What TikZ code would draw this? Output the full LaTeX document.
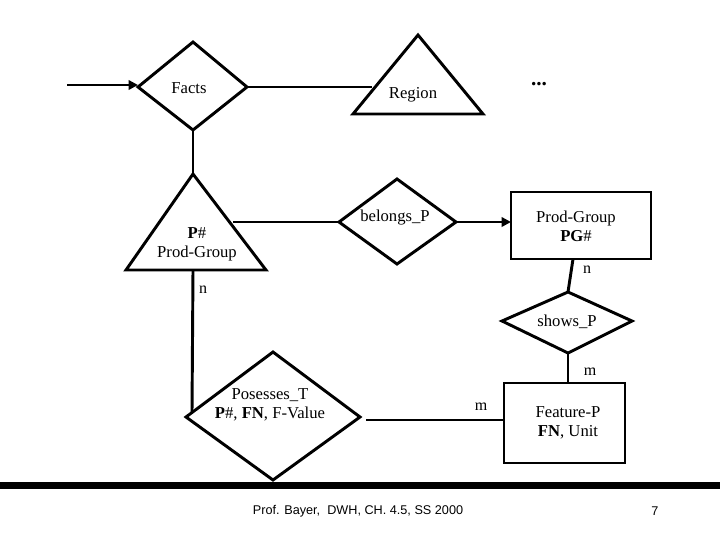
\documentclass[tikz,border=0pt]{standalone}
\usepackage{fontspec}
\setmainfont{Liberation Serif}
\newfontfamily\footfont{Liberation Sans}
\usetikzlibrary{arrows.meta}
\begin{document}
\begin{tikzpicture}[x=0.75pt,y=-0.75pt,
  shp/.style={line width=2.2pt,line join=miter},
  ln/.style={line width=2.2pt},
  arr/.style={line width=2.2pt,-{Triangle[length=7pt,width=7pt]}},
  txt/.style={font=\fontsize{12.5}{14}\selectfont,align=center,inner sep=0pt},
  lbl/.style={font=\fontsize{12}{14}\selectfont,inner sep=0pt}]
\useasboundingbox (0,0) rectangle (720,540);
% shapes
\draw[shp] (138,87) coordinate (fL) -- (193,42) -- (247,87) coordinate (fR) -- (193,130) coordinate (fB) -- cycle;
\node[txt] (facts) at (189,88) {Facts};
\draw[shp] (418,35) -- (483,114) -- (353,114) -- cycle;
\coordinate (rL) at (372,87);
\node[txt] (region) at (413,95) {Region};
\node[font=\fontsize{16}{16}\selectfont\bfseries] (dots) at (539,84) {...};
\draw[shp] (193,174) coordinate (pT) -- (266,270) -- (126,270) -- cycle;
\coordinate (pR) at (233,222);
\coordinate (pB) at (193,270);
\node[txt] (p) at (197,244) {\textbf{P}\#\\Prod-Group};
\draw[shp] (339,222) coordinate (bL) -- (397,179) -- (456,222) coordinate (bR) -- (397,264) -- cycle;
\node[txt] (belongs) at (395,218) {belongs\_P};
\draw[shp] (511,192) rectangle (651,259);
\node[txt] (pg) at (576,226) {Prod-Group\\\textbf{PG}\#};
\coordinate (pgL) at (511,222);
\coordinate (pgB) at (573,259);
\draw[shp] (502,321) -- (568,292) coordinate (sT) -- (632,321) -- (568,353) coordinate (sB) -- cycle;
\node[txt] (shows) at (567,322) {shows\_P};
\draw[shp] (504,383) rectangle (625,463);
\node[txt] (feat) at (568,423) {Feature-P\\\textbf{FN}, Unit};
\coordinate (ftT) at (568,383);
\coordinate (ftL) at (504,420);
\draw[shp] (186,417) -- (273,352) -- (360,417) -- (273,480) -- cycle;
\node[txt] (pos) at (270,405) {Posesses\_T\\\textbf{P}\#, \textbf{FN}, F-Value};
\coordinate (posL) at (192,412);
\coordinate (posR) at (366,420);
% connectors
\coordinate (start) at (67,85);
\draw[arr] (start) -- (fL|-start);
\draw[ln] (fR) -- (rL);
\draw[ln] (fB) -- (pT);
\draw[ln] (pR) -- (bL);
\draw[arr] (bR) -- (pgL);
\draw[ln] (pgB) -- (sT);
\draw[ln] (sB) -- (ftT);
\draw[ln] (pB) -- (posL);
\draw[ln] (posR) -- (ftL);
% labels
\node[lbl] (n1) at (203,290) {n};
\node[lbl] (n2) at (587,270) {n};
\node[lbl] (m1) at (590,372) {m};
\node[lbl] (m2) at (481,407) {m};
% footer
\fill (0,482) rectangle (720,489);
\node[font=\footfont\fontsize{9.5}{11}\selectfont] (foot) at (358,511) {Prof. Bayer,\ \ DWH, CH. 4.5, SS 2000};
\node[font=\footfont\fontsize{9.5}{11}\selectfont] (num) at (655,511) {7};
\end{tikzpicture}
\end{document}
